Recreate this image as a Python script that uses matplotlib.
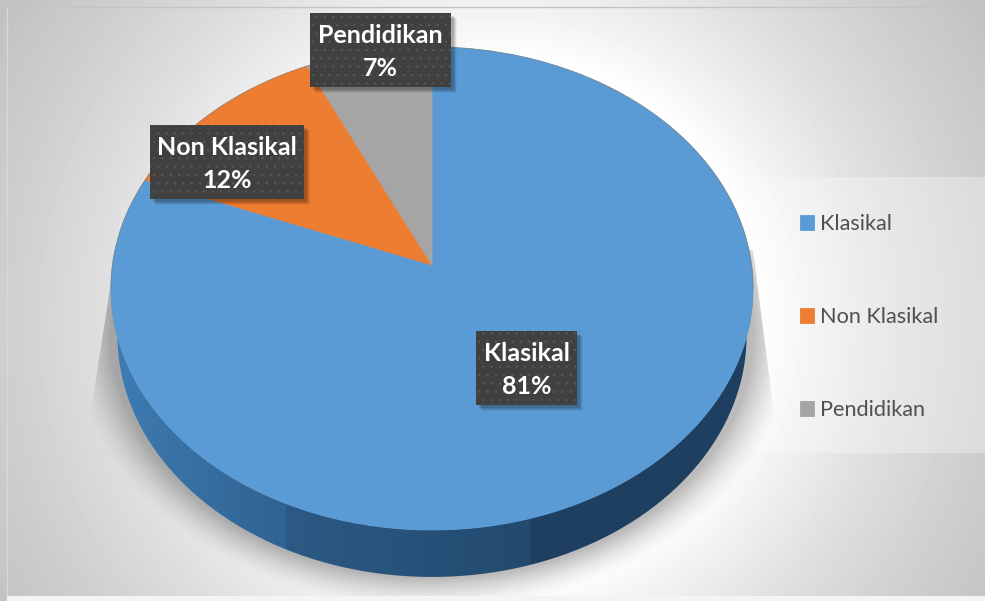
import numpy as np
import matplotlib
matplotlib.use("Agg")
import matplotlib.pyplot as plt
from matplotlib.patches import Rectangle, PathPatch
from matplotlib.path import Path
from matplotlib.transforms import Transform

# data
labels = ["Klasikal", "Non Klasikal", "Pendidikan"]
values = [81, 12, 7]
colors = ["#5b9bd5", "#ed7d31", "#a5a5a5"]

plt.rcParams["font.family"] = ["Lato", "DejaVu Sans"]
plt.rcParams["hatch.linewidth"] = 0.3

W, H = 985, 601
APEX_X, APEX_Y = 432, 265
DEPTH = 47


# tilts the flat unit circle of the pie into pixel coordinates
class Tilt(Transform):
    input_dims = 2
    output_dims = 2
    is_separable = False
    has_inverse = False
    k = 0.0973

    def transform_non_affine(self, xy):
        xy = np.asarray(xy, dtype=float)
        s = 1 + self.k * xy[:, 1]
        return np.column_stack([APEX_X + 319.5 * xy[:, 0] / s, APEX_Y - 239.2 * xy[:, 1] / s])


fig = plt.figure(figsize=(W / 100, H / 100), dpi=100)
ax = fig.add_axes([0, 0, 1, 1])

wedges, _ = ax.pie(values, colors=colors, startangle=90, counterclock=False,
                   wedgeprops={"linewidth": 0.6})
ax.set_aspect("auto")
ax.set_xlim(0, W)
ax.set_ylim(H, 0)
ax.axis("off")
for w, c in zip(wedges, colors):
    w.set_transform(Tilt() + ax.transData)
    w.set_edgecolor(c)
    w.set_zorder(5)

# thin rim on the upper edge
t = np.linspace(-0.1, np.pi + 0.1, 300)
ax.plot(np.cos(t), np.sin(t), color="#7f7f7f", lw=0.6, alpha=0.7, zorder=5.5,
        transform=Tilt() + ax.transData)

# background
yy, xx = np.mgrid[0:H, 0:W]
dist = np.hypot(xx - 496, yy - 320)
bg = np.interp(dist, [0, 260, 320, 400, 490, 580], [1, 1, 0.94, 0.87, 0.81, 0.76])
ax.imshow(bg, cmap="gray", vmin=0, vmax=1, extent=(0, W, H, 0), zorder=0, aspect="auto",
          clip_path=Rectangle((7, 7), W - 7, 589, transform=ax.transData))
ax.plot([7, W], [7, 7], color="#c4c4c4", lw=1, zorder=1)
ax.plot([7, 7], [7, 596], color="#d8d8d8", lw=1, zorder=1)
ax.add_patch(Rectangle((7, 596), W - 7, 5, fc="#f4f4f4", ec="none", zorder=1))

# legend panel
ax.add_patch(Rectangle((751, 177), W - 751, 276, fc="white", ec="none", alpha=0.3, zorder=1))

# shadow under the pie
ed = np.hypot((xx - 432) / 321.0, (yy - 332) / 246.0)
sh = np.clip(1 - (ed - 1) * 321 / 42, 0, 1) ** 1.5 * 0.27
sh[ed < 1] = 0.27
rgba = np.zeros((H, W, 4))
rgba[..., 3] = sh
clip = Path([(111, 282), (88, 430), (88, 596), (778, 596), (778, 445), (753, 250), (111, 282)])
ax.imshow(rgba, extent=(0, W, H, 0), zorder=2, aspect="auto",
          clip_path=PathPatch(clip, transform=ax.transData))

# side of the pie
t = np.linspace(np.pi, 2 * np.pi, 300)
rim = Tilt().transform_non_affine(np.column_stack([np.cos(t), np.sin(t)]))
low = rim + [0, DEPTH]
low[:, 0] = APEX_X + (low[:, 0] - APEX_X) * 0.98
side = Path(np.vstack([rim, low[::-1], rim[:1]]))
xs = np.arange(W)
stops_x = [111, 160, 285, 286, 530, 531, 753]
stops_c = ["#3f7db5", "#3a74a8", "#2f6391", "#2c5a85", "#234a6e", "#1f3f60", "#1f3f60"]
rgb = np.array([[int(c[i:i + 2], 16) / 255 for i in (1, 3, 5)] for c in stops_c])
grad = np.stack([np.interp(xs, stops_x, rgb[:, i]) for i in range(3)], axis=1)[None, :, :]
ax.imshow(grad, extent=(0, W, H, 0), zorder=3, aspect="auto",
          clip_path=PathPatch(side, transform=ax.transData))

# data labels
boxes = [(476, 331, 101, 74), (150, 125, 154, 74), (310, 13, 141, 74)]
for lab, val, (bx, by, bw, bh) in zip(labels, values, boxes):
    for d, a in [(7, 0.05), (6, 0.07), (5, 0.1), (4, 0.12)]:
        ax.add_patch(Rectangle((bx + d - 1, by + d - 1), bw, bh, fc="black", ec="none", alpha=a, zorder=6))
    ax.add_patch(Rectangle((bx, by), bw, bh, fc="#404040", ec="#5c5c5c", lw=0, hatch="..", zorder=7))
    ax.text(bx + bw / 2, by + bh / 2 + 2, f"{lab}\n{val}%", color="white", fontsize=18, fontweight="bold",
            ha="center", va="center", linespacing=1.5, zorder=8)

ax.legend(wedges, labels, loc="upper left", bbox_to_anchor=(800 / W, 1 - 214 / H), frameon=False,
          fontsize=15.6, labelcolor="#505050", handlelength=0.64, handleheight=0.64, handletextpad=0.28,
          labelspacing=3.37, borderpad=0, borderaxespad=0)

fig.savefig("out.png", dpi=100)
